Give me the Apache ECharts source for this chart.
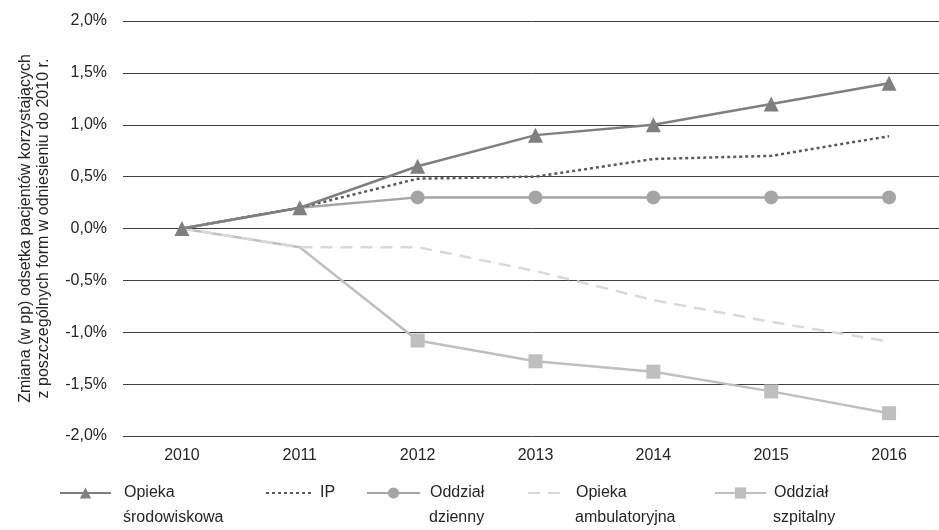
<!DOCTYPE html>
<html><head><meta charset="utf-8">
<script src="https://cdn.jsdelivr.net/npm/echarts@6/dist/echarts.min.js"></script>
<style>html,body{margin:0;padding:0;background:#fff}#c{width:939px;height:530px}</style>
</head><body><div id="c"></div>
<script>
const categories = ['2010','2011','2012','2013','2014','2015','2016'];
const opiekaSrodowiskowa = [0, 0.2, 0.6, 0.9, 1.0, 1.2, 1.4];
const ip = [0, 0.2, 0.48, 0.5, 0.67, 0.7, 0.89];
const oddzialDzienny = [0, 0.2, 0.3, 0.3, 0.3, 0.3, 0.3];
const opiekaAmbulatoryjna = [0, -0.18, -0.18, -0.41, -0.69, -0.9, -1.09];
const oddzialSzpitalny = [0, -0.18, -1.08, -1.28, -1.38, -1.57, -1.78];
const names = ['Opieka środowiskowa', 'IP', 'Oddział dzienny', 'Opieka ambulatoryjna', 'Oddział szpitalny'];
const firstLines = ['Opieka', 'IP', 'Oddział', 'Opieka', 'Oddział'];
const secondLines = ['środowiskowa', '', 'dzienny', 'ambulatoryjna', 'szpitalny'];

const font = 'Liberation Sans, Arial, sans-serif';
const txt = '#262626';
const colors = ['#7f7f7f', '#595959', '#a5a5a5', '#d9d9d9', '#bfbfbf'];
function hideFirst(arr, n) {
  return arr.map((v, i) => i < n ? {value: v, symbol: 'none'} : v);
}
const chart = echarts.init(document.getElementById('c'));
const legendLefts = [59, 265, 366, 527, 714];
const legendWidths = [51, 48, 53, 39, 51];
const textLefts = [123, 319, 429, 575, 773];
const noSymbol = [false, true, false, true, false];
chart.setOption({
  animation: false,
  backgroundColor: '#fff',
  grid: {left: 123, top: 21, width: 825, bottom: 94, containLabel: false, outerBoundsMode: 'none'},
  legend: names.map((n, i) => ({
    data: [n], left: legendLefts[i], top: 485, itemWidth: legendWidths[i], itemHeight: 14, padding: 0,
    formatter: () => firstLines[i],
    itemStyle: noSymbol[i] ? {opacity: 0} : {color: colors[i]},
    lineStyle: {color: colors[i]},
    textStyle: {fontFamily: font, fontSize: 16, color: txt, padding: [0, 0, 0, textLefts[i] - legendLefts[i] - legendWidths[i] - 5]}
  })),
  graphic: secondLines.map((s, i) => ({
    type: 'text', left: textLefts[i], top: 510,
    style: {text: s, fontFamily: font, fontSize: 16, fill: txt}
  })).filter(g => g.style.text),
  xAxis: {
    type: 'category', data: categories, boundaryGap: true,
    axisLine: {show: false}, axisTick: {show: false},
    axisLabel: {fontFamily: font, fontSize: 16, color: txt, margin: 12}
  },
  yAxis: {
    type: 'value', min: -2, max: 2, interval: 0.5,
    name: 'Zmiana (w pp) odsetka pacjentów korzystających\nz poszczególnych form w odniesieniu do 2010 r.',
    nameLocation: 'middle', nameGap: 70, nameRotate: 90,
    nameTextStyle: {fontFamily: font, fontSize: 16, color: txt, lineHeight: 18},
    axisLine: {show: false}, axisTick: {show: false},
    axisLabel: {fontFamily: font, fontSize: 16, color: txt, margin: 16,
      formatter: v => v.toFixed(1).replace('.', ',') + '%'},
    splitLine: {lineStyle: {color: '#404040', width: 1}}
  },
  series: [
    {name: names[0], type: 'line', data: opiekaSrodowiskowa, symbol: 'triangle', symbolSize: 15,
      itemStyle: {color: colors[0]}, lineStyle: {color: colors[0], width: 2.5}, z: 5},
    {name: names[1], type: 'line', data: ip, symbol: 'none', showSymbol: false,
      itemStyle: {color: colors[1]}, lineStyle: {color: colors[1], width: 2.5, type: [3, 3]}, z: 4},
    {name: names[2], type: 'line', data: hideFirst(oddzialDzienny, 2), symbol: 'circle', symbolSize: 14,
      itemStyle: {color: colors[2]}, lineStyle: {color: colors[2], width: 2.5}, z: 3},
    {name: names[3], type: 'line', data: opiekaAmbulatoryjna, symbol: 'none', showSymbol: false,
      itemStyle: {color: colors[3]}, lineStyle: {color: colors[3], width: 2.5, type: [12, 8]}, z: 2},
    {name: names[4], type: 'line', data: hideFirst(oddzialSzpitalny, 2), symbol: 'rect', symbolSize: 14,
      itemStyle: {color: colors[4]}, lineStyle: {color: colors[4], width: 2.5}, z: 1}
  ]
});
</script></body></html>
